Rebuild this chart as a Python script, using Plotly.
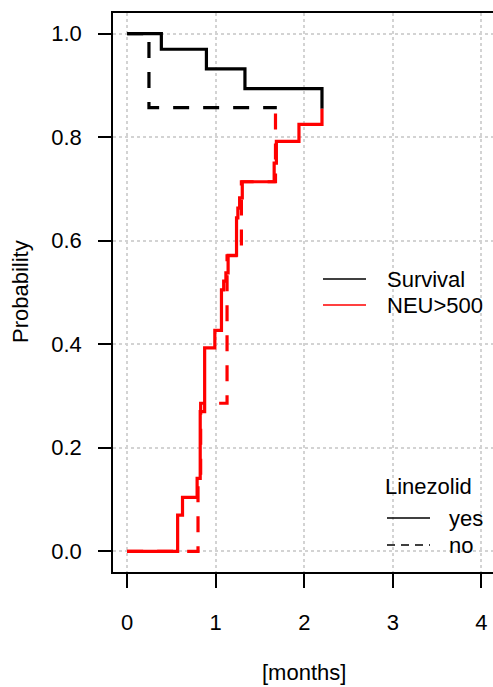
import plotly.graph_objects as go

# ---- data ----
surv_yes_t = [0, 0.386, 0.895, 1.33, 2.20, 2.20]
surv_yes_p = [1.0, 0.970, 0.932, 0.894, 0.894, 0.855]

surv_no_t = [0, 0.246, 1.69]
surv_no_p = [1.0, 0.857, 0.857]

neu_yes_t = [0, 0.57, 0.625, 0.79, 0.825, 0.875, 0.99, 1.065, 1.09, 1.115, 1.14,
             1.235, 1.25, 1.27, 1.30, 1.66, 1.685, 1.94, 2.20]
neu_yes_p = [0, 0.070, 0.104, 0.141, 0.270, 0.393, 0.427, 0.505, 0.522, 0.538, 0.572,
             0.644, 0.663, 0.683, 0.714, 0.750, 0.792, 0.825, 0.855]

neu_no_t = [0, 0.80, 0.83, 1.128, 1.29, 1.675]
neu_no_p = [0, 0.143, 0.286, 0.571, 0.714, 0.857]

x_ticks = [0, 1, 2, 3, 4]
y_ticks = [0.0, 0.2, 0.4, 0.6, 0.8, 1.0]

FONT = "Liberation Sans, Arial, sans-serif"
FS = 22
W, H = 493, 687
ML, MT, MB = 113, 13, 115
PW = W - ML
PH = H - MT - MB

fig = go.Figure()
DASH = "16px,14px"
fig.add_trace(go.Scatter(x=surv_yes_t, y=surv_yes_p, mode="lines", line_shape="hv",
                         line=dict(color="black", width=3.2), showlegend=False))
fig.add_trace(go.Scatter(x=surv_no_t, y=surv_no_p, mode="lines", line_shape="hv",
                         line=dict(color="black", width=3.2, dash=DASH), showlegend=False))
fig.add_trace(go.Scatter(x=neu_yes_t, y=neu_yes_p, mode="lines", line_shape="hv",
                         line=dict(color="red", width=3.2), showlegend=False))
fig.add_trace(go.Scatter(x=neu_no_t, y=neu_no_p, mode="lines", line_shape="hv",
                         line=dict(color="red", width=3.2, dash=DASH), showlegend=False))

def px(xp):
    return (xp - ML) / PW

def py(yp):
    return (H - MB - yp) / PH

shapes = []
annos = []
# legend 1
shapes.append(dict(type="line", xref="paper", yref="paper", x0=px(323), x1=px(366),
                   y0=py(279), y1=py(279), line=dict(color="black", width=1.5)))
shapes.append(dict(type="line", xref="paper", yref="paper", x0=px(323), x1=px(366),
                   y0=py(305), y1=py(305), line=dict(color="red", width=1.5)))
annos.append(dict(text="Survival", x=px(385), y=py(279)))
annos.append(dict(text="NEU>500", x=px(385), y=py(305)))
# legend 2
annos.append(dict(text="Linezolid", x=px(383), y=py(486)))
shapes.append(dict(type="line", xref="paper", yref="paper", x0=px(387), x1=px(430),
                   y0=py(518), y1=py(518), line=dict(color="black", width=1.5)))
shapes.append(dict(type="line", xref="paper", yref="paper", x0=px(387), x1=px(430),
                   y0=py(545), y1=py(545), line=dict(color="black", width=1.5, dash="8px,6px")))
annos.append(dict(text="yes", x=px(447), y=py(518)))
annos.append(dict(text="no", x=px(447), y=py(545)))

annotations = []
for a in annos:
    annotations.append(dict(text=a["text"], x=a["x"], y=a["y"], xref="paper", yref="paper",
                            xanchor="left", yanchor="middle", showarrow=False,
                            font=dict(family=FONT, size=FS, color="black")))
annotations.append(dict(text="[months]", x=px(304), y=py(672), xref="paper", yref="paper",
                        xanchor="center", yanchor="middle", showarrow=False,
                        font=dict(family=FONT, size=FS, color="black")))
annotations.append(dict(text="Probability", x=px(20), y=py(292), xref="paper", yref="paper",
                        xanchor="center", yanchor="middle", showarrow=False, textangle=-90,
                        font=dict(family=FONT, size=FS, color="black")))

x0_val = -0.16
scale = 88.55
x1_val = x0_val + PW / scale

fig.update_layout(
    width=W, height=H,
    margin=dict(l=ML, r=0, t=MT, b=MB, pad=0),
    paper_bgcolor="white", plot_bgcolor="white",
    shapes=shapes, annotations=annotations,
    xaxis=dict(range=[x0_val, x1_val], tickvals=x_ticks, ticktext=[str(v) for v in x_ticks],
               showline=True, linecolor="black", linewidth=1.5, mirror=True,
               ticks="outside", ticklen=14, tickwidth=1.5, tickcolor="black",
               showgrid=True, gridcolor="#d3d3d3", gridwidth=1.5, griddash="dot",
               zeroline=False, tickfont=dict(family=FONT, size=FS, color="black"),
               ticklabelstandoff=16),
    yaxis=dict(range=[-0.04, 1.04], tickvals=y_ticks, ticktext=[f"{v:.1f}" for v in y_ticks],
               showline=True, linecolor="black", linewidth=1.5, mirror=False,
               ticks="outside", ticklen=13, tickwidth=1.5, tickcolor="black",
               showgrid=True, gridcolor="#d3d3d3", gridwidth=1.5, griddash="dot",
               zeroline=False, tickfont=dict(family=FONT, size=FS, color="black"),
               ticklabelstandoff=12),
)

fig.write_html("out.html")
